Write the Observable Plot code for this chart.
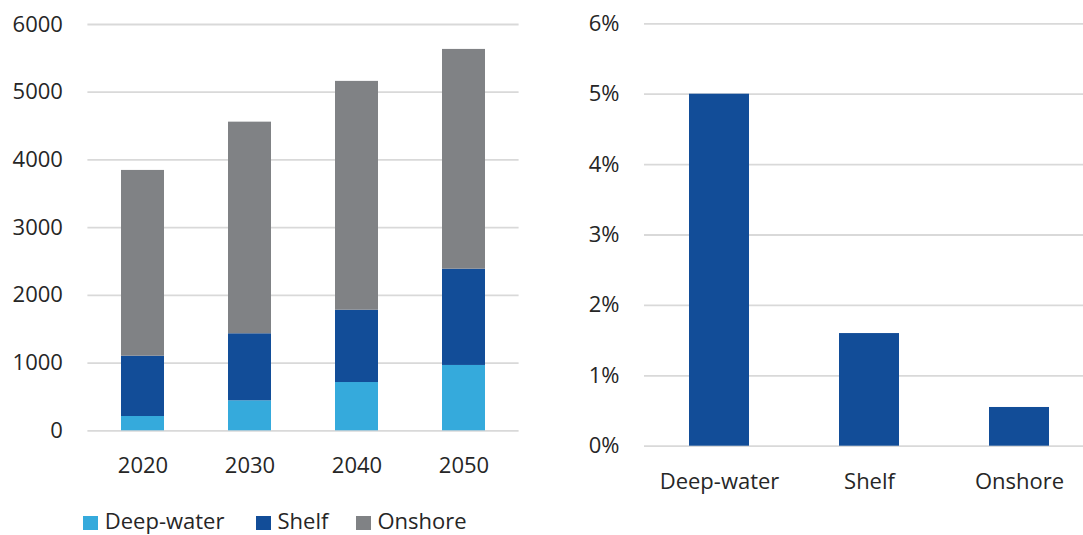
<!DOCTYPE html>
<html>
<head>
<meta charset="utf-8">
<script src="https://cdn.jsdelivr.net/npm/d3@7"></script>
<script src="https://cdn.jsdelivr.net/npm/@observablehq/plot@0.6"></script>
<style>
  html, body { margin: 0; padding: 0; background: #fff; overflow: hidden; }
  #wrap { position: relative; width: 1083px; height: 535px; overflow: hidden; font-family: "Open Sans", sans-serif; color: #262626; }
  #wrap svg { max-width: none !important; }
  #left, #right { position: absolute; top: 0; width: 540px; }
  #left { left: 0; }
  #right { left: 560px; }
  .leg { position: absolute; top: 505px; height: 29px; display: flex; align-items: center; font-size: 22px; white-space: nowrap; }
  .leg span { display: block; line-height: 22px; height: 22px; }
  .sw { width: 14.5px; height: 14.5px; margin-right: 7px; margin-top: 7px; }
</style>
</head>
<body>
<div id="wrap">
  <div id="left"></div>
  <div id="right"></div>
</div>
<script>
// ---- data ----
const years = ["2020", "2030", "2040", "2050"];
const seriesNames = ["Deep-water", "Shelf", "Onshore"];
const deepWater = [211, 443, 713, 965];
const shelf = [891, 990, 1068, 1422];
const onshore = [2743, 3125, 3379, 3245];
const seriesColors = ["#35aadc", "#124d98", "#808285"];
const leftTicks = [0, 1000, 2000, 3000, 4000, 5000, 6000];

const categories = ["Deep-water", "Shelf", "Onshore"];
const shares = [0.050, 0.016, 0.0055];
const rightTicks = [0, 0.01, 0.02, 0.03, 0.04, 0.05, 0.06];

// ---- build tables ----
const seriesValues = [deepWater, shelf, onshore];
const stacked = [];
seriesNames.forEach((s, si) => {
  years.forEach((yr, i) => stacked.push({year: yr, series: s, value: seriesValues[si][i]}));
});
const shareData = categories.map((c, i) => ({cat: c, share: shares[i]}));

const baseStyle = {fontSize: "22px", fontFamily: "Open Sans, sans-serif", color: "#262626", background: "transparent", overflow: "visible"};
const gridColor = "#d9d9d9";

// ---- left: stacked bars ----
const left = Plot.plot({
  width: 540,
  height: 480,
  marginLeft: 87.4,
  marginRight: 21.4,
  marginTop: 24,
  marginBottom: 49.7,
  style: baseStyle,
  x: {domain: years, paddingInner: 0.6, paddingOuter: 0.3, label: null},
  y: {domain: [0, 6000], label: null},
  color: {domain: seriesNames, range: seriesColors},
  marks: [
    Plot.gridY(leftTicks, {stroke: gridColor, strokeOpacity: 1, strokeWidth: 1.8}),
    Plot.barY(stacked, Plot.stackY({order: null}, {x: "year", y: "value", fill: "series"})),
    Plot.axisX({tickSize: 0, tickPadding: 26.5, label: null}),
    Plot.axisY({ticks: leftTicks, tickSize: 0, tickPadding: 25, label: null, tickFormat: d => String(d)})
  ]
});
document.getElementById("left").appendChild(left);

// ---- right: share bars ----
const right = Plot.plot({
  width: 540,
  height: 500,
  marginLeft: 84,
  marginRight: 6,
  marginTop: 23.3,
  marginBottom: 54.3,
  style: baseStyle,
  x: {domain: categories, paddingInner: 0.6, paddingOuter: 0.3, label: null},
  y: {domain: [0, 0.06], label: null},
  marks: [
    Plot.gridY(rightTicks, {stroke: gridColor, strokeOpacity: 1, strokeWidth: 1.8}),
    Plot.barY(shareData, {x: "cat", y: "share", fill: "#124d98"}),
    Plot.axisX({tickSize: 0, tickPadding: 27, label: null}),
    Plot.axisY({ticks: rightTicks, tickSize: 0, tickPadding: 25, label: null, tickFormat: d => Math.round(d * 100) + "%"})
  ]
});
document.getElementById("right").appendChild(right);

// ---- legend ----
const legendLeft = [83.3, 256, 356];
const wrap = document.getElementById("wrap");
seriesNames.forEach((s, i) => {
  const item = document.createElement("div");
  item.className = "leg";
  item.style.left = legendLeft[i] + "px";
  const sw = document.createElement("div");
  sw.className = "sw";
  sw.style.background = seriesColors[i];
  const tx = document.createElement("span");
  tx.textContent = s;
  item.appendChild(sw);
  item.appendChild(tx);
  wrap.appendChild(item);
});
</script>
</body>
</html>
